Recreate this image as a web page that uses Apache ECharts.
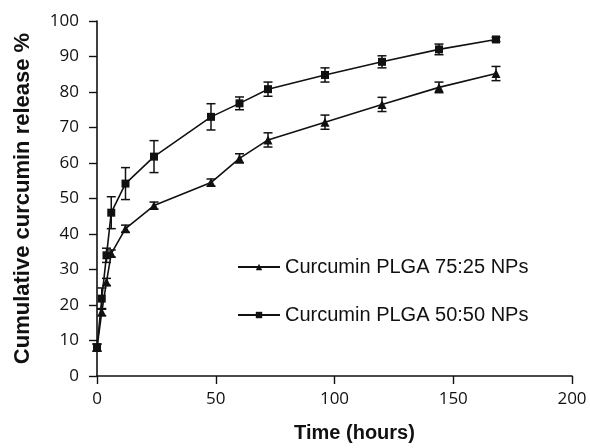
<!DOCTYPE html>
<html>
<head>
    <meta charset="UTF-8">
    <title></title>
    <style type="text/css">
        html, body { margin: 0; padding: 0; background: #fff; }
    </style>
</head>
<body>
<div id='mychart' style="width: 590px;height:448px;"></div>
<script src='https://cdn.jsdelivr.net/npm/echarts@6/dist/echarts.min.js'></script>
<script>
    // time points (hours)
    var hours = [0, 2, 4, 6, 12, 24, 48, 60, 72, 96, 120, 144, 168];
    // Curcumin PLGA 75:25 NPs
    var plga7525 = [8, 18, 26.5, 34.5, 41.5, 48, 54.5, 61.3, 66.5, 71.5, 76.5, 81.3, 85.2];
    var err7525 = [1, 1, 1, 1, 1, 1, 1, 1.3, 2, 2, 2, 1.5, 2];
    // Curcumin PLGA 50:50 NPs
    var plga5050 = [8, 21.8, 34, 46, 54.2, 61.8, 73, 76.8, 80.8, 84.8, 88.5, 92, 94.8];
    var err5050 = [1, 3, 2, 4.5, 4.5, 4.5, 3.7, 1.8, 2, 2, 1.7, 1.5, 0.6];

    var names = ['Curcumin PLGA 75:25 NPs', 'Curcumin PLGA 50:50 NPs'];

    function pairs(ys) {
        var res = [];
        for (var i = 0; i < hours.length; i++) res.push([hours[i], ys[i]]);
        return res;
    }
    function errData(ys, es) {
        var res = [];
        for (var i = 0; i < hours.length; i++) res.push([hours[i], ys[i] - es[i], ys[i] + es[i]]);
        return res;
    }
    // vertical error bar with caps
    function renderErr(params, api) {
        var lo = api.coord([api.value(0), api.value(1)]);
        var hi = api.coord([api.value(0), api.value(2)]);
        var w = 4.5;
        var st = {stroke: '#111', lineWidth: 1.5};
        return {
            type: 'group',
            children: [
                {type: 'line', shape: {x1: lo[0], y1: lo[1], x2: hi[0], y2: hi[1]}, style: st},
                {type: 'line', shape: {x1: lo[0] - w, y1: lo[1], x2: lo[0] + w, y2: lo[1]}, style: st},
                {type: 'line', shape: {x1: hi[0] - w, y1: hi[1], x2: hi[0] + w, y2: hi[1]}, style: st}
            ]
        };
    }

    var myChart = echarts.init(document.getElementById('mychart'));
    var font = 'Liberation Sans, Arial, sans-serif';
    var tickFont = 'Open Sans, sans-serif';
    var option = {
        animation: false,
        grid: {left: 97, right: 18, top: 21, bottom: 72},
        legend: {
            data: names,
            orient: 'vertical',
            left: 232,
            top: 251,
            itemWidth: 42,
            itemHeight: 8,
            itemGap: 26,
            textStyle: {fontSize: 20, lineHeight: 22, color: '#111', fontFamily: font}
        },
        xAxis: {
            type: 'value',
            min: 0, max: 200, interval: 50,
            name: 'Time (hours)',
            nameLocation: 'middle',
            nameGap: 47,
            nameTextStyle: {fontSize: 20, fontWeight: 'bold', color: '#111', fontFamily: font, padding: [0, 0, 0, 40]},
            axisLine: {lineStyle: {color: '#111', width: 1.6}},
            axisTick: {show: true, length: 8, lineStyle: {color: '#111', width: 1.4}},
            axisLabel: {fontSize: 17, color: '#111', margin: 15, fontFamily: tickFont},
            splitLine: {show: false}
        },
        yAxis: {
            type: 'value',
            min: 0, max: 100, interval: 10,
            name: 'Cumulative curcumin release %',
            nameLocation: 'middle',
            nameGap: 63,
            nameTextStyle: {fontSize: 22, fontWeight: 'bold', color: '#111', fontFamily: font},
            axisLine: {show: true, lineStyle: {color: '#111', width: 1.6}},
            axisTick: {show: true, length: 8, lineStyle: {color: '#111', width: 1.4}},
            axisLabel: {fontSize: 17, color: '#111', margin: 18, fontFamily: tickFont},
            splitLine: {show: false}
        },
        series: [
            {
                name: names[0], type: 'line', data: pairs(plga7525),
                symbol: 'triangle', symbolSize: 9,
                lineStyle: {color: '#111', width: 1.6},
                itemStyle: {color: '#111'}, z: 3
            },
            {
                name: names[1], type: 'line', data: pairs(plga5050),
                symbol: 'rect', symbolSize: 8,
                lineStyle: {color: '#111', width: 1.6},
                itemStyle: {color: '#111'}, z: 3
            },
            {type: 'custom', renderItem: renderErr, data: errData(plga7525, err7525), z: 4, silent: true},
            {type: 'custom', renderItem: renderErr, data: errData(plga5050, err5050), z: 4, silent: true}
        ]
    };
    myChart.setOption(option);
</script>
</body>
</html>
